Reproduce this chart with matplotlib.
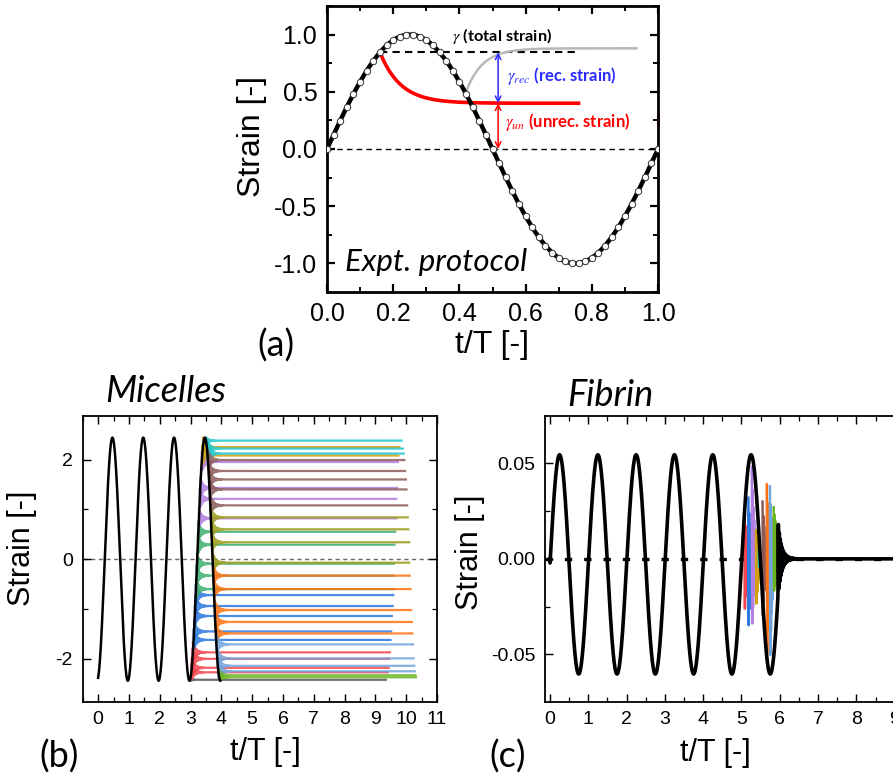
import numpy as np
import matplotlib
matplotlib.use('Agg')
import matplotlib.pyplot as plt
from matplotlib.ticker import MultipleLocator

plt.rcParams['font.family'] = ['Liberation Sans', 'DejaVu Sans']
plt.rcParams['mathtext.fontset'] = 'stix'
plt.rcParams['axes.unicode_minus'] = False

# ---------------- (a) experimental protocol ----------------
proto_amp = 1.0
proto_mark_step = 0.02
stop_t = 0.16            # shear stopped here
total_strain = 0.845     # gamma at stop
unrec_strain = 0.40      # level the red recovery curve settles at
red_end_t = 0.76
gray_t0, gray_y0 = 0.42, 0.50
gray_plateau = 0.88
gray_end_t = 0.935
arrow_t = 0.517

# ---------------- (b) micelles ----------------
mic_amp = 2.44
mic_shift = 0.035
mic_stop_cycle = 3
# cessation on the rising half of the last cycle
rise_levels = [-2.42, -2.27, -2.18, -2.00, -1.87, -1.62, -1.45, -1.14, -0.94, -0.72,
               -0.60, -0.33, -0.09, 0.29, 0.55, 0.82, 1.21, 1.43, 1.95, 2.08, 2.25]
rise_ends = [9.34, 9.40, 9.43, 9.45, 9.47, 9.49, 9.51, 9.53, 9.56, 9.58,
             9.59, 9.60, 9.60, 9.62, 9.64, 9.68, 9.68, 9.71, 9.73, 9.75, 9.78]
rise_colors = (['#555555'] + ['#f2444f'] * 4 + ['#2a78e0'] * 5 + ['#3daf6e'] * 5
               + ['#b07fe0'] * 4 + ['#d4a010'] * 2)
# cessation on the falling half
fall_levels = [2.38, 2.22, 2.12, 1.99, 1.77, 1.60, 1.40, 1.08, 0.84, 0.60, 0.34, -0.07,
               -0.33, -0.60, -1.02, -1.26, -1.49, -1.71, -1.99, -2.14, -2.25, -2.33, -2.37]
fall_ends = [9.85, 9.89, 9.92, 9.94, 9.96, 9.99, 10.01, 10.03, 10.05, 10.07, 10.10, 10.10,
             10.12, 10.14, 10.16, 10.18, 10.20, 10.22, 10.24, 10.26, 10.28, 10.30, 10.32]
fall_colors = (['#1fc6cc'] * 3 + ['#8c5a5a'] * 5 + ['#9c9c18'] * 4 + ['#ff7212'] * 5
               + ['#72a4dc'] * 4 + ['#6ab420'] * 2)

# ---------------- (c) fibrin ----------------
fib_amp = 0.0574
fib_offset = -0.0029
fib_stop = 5.95
fib_starts = [5.08, 5.18, 5.27, 5.38, 5.45, 5.55, 5.66, 5.74, 5.84]
fib_tops = [0.023, 0.032, 0.048, 0.015, 0.005, 0.030, 0.039, 0.038, 0.027]
fib_bottoms = [-0.030, -0.040, -0.039, -0.027, -0.005, -0.034, -0.057, -0.058, -0.018]
fib_decay = [0.07, 0.07, 0.07, 0.07, 0.07, 0.07, 0.07, 0.07, 0.13]
fib_colors = ['#f2444f', '#2a78e0', '#b07fe0', '#d4a010', '#1fc6cc', '#8c5a5a',
              '#ff7212', '#72a4dc', '#6ab420']

W, H = 893, 784
fig = plt.figure(figsize=(W / 100, H / 100), dpi=100)


def px_axes(x0, y0, x1, y1):
    return fig.add_axes([x0 / W, 1 - y1 / H, (x1 - x0) / W, (y1 - y0) / H])


def style_ticks(ax, size, lw):
    ax.tick_params(which='both', direction='in', top=True, right=True, labelsize=size)
    ax.tick_params(which='major', length=6, width=lw * 0.8, pad=7)
    ax.tick_params(which='minor', length=3.5, width=lw * 0.7)
    for s in ax.spines.values():
        s.set_linewidth(lw)


def ringing(s, amp, tau, freq=30.0):
    return amp * np.exp(-s / tau) * np.cos(2 * np.pi * freq * s)


# ======== (a) ========
ax = px_axes(327, 6, 658, 292)
t = np.linspace(0, 1, 600)
ax.plot(t, proto_amp * np.sin(2 * np.pi * t), color='black', lw=3.2, zorder=3)
tm = np.arange(0, 1 + 1e-9, proto_mark_step)
ax.plot(tm, proto_amp * np.sin(2 * np.pi * tm), ls='none', marker='o', ms=4.6,
        mfc='white', mec='#333333', mew=0.7, zorder=4)
ax.axhline(0, color='black', lw=1, dashes=(4, 3), zorder=1)
ax.plot([stop_t, red_end_t], [total_strain, total_strain], color='black', lw=1.5,
        dashes=(3.5, 2.5), zorder=2)

tr = np.linspace(stop_t, red_end_t, 300)
ax.plot(tr, unrec_strain + (total_strain - unrec_strain) * np.exp(-(tr - stop_t) / 0.062),
        color='red', lw=2.6, zorder=2)
tg = np.linspace(gray_t0, gray_end_t, 300)
ax.plot(tg, gray_plateau - (gray_plateau - gray_y0) * np.exp(-(tg - gray_t0) / 0.05),
        color='#b8b8b8', lw=1.8, zorder=2)
ax.plot([1.0, 1.0], [0.22, 0.29], color='red', lw=2, clip_on=False, zorder=1)

ax.annotate('', xy=(arrow_t, total_strain), xytext=(arrow_t, unrec_strain),
            arrowprops=dict(arrowstyle='<->', color='#2b2bff', lw=1.1, shrinkA=0, shrinkB=0))
ax.annotate('', xy=(arrow_t, unrec_strain), xytext=(arrow_t, 0),
            arrowprops=dict(arrowstyle='<->', color='red', lw=1.1, shrinkA=0, shrinkB=0))
ax.text(0.378, 0.987, r'$\gamma$ (total strain)', fontsize=11.8, fontweight='bold',
        family='Lato', va='center', color='black')
ax.text(0.544, 0.64, r'$\gamma_{rec}$ (rec. strain)', fontsize=12, fontweight='bold',
        family='Lato', va='center', color='#2b2bff')
ax.text(0.538, 0.237, r'$\gamma_{un}$ (unrec. strain)', fontsize=12, fontweight='bold',
        family='Lato', va='center', color='red')
ax.text(0.054, -1.07, 'Expt. protocol', fontsize=22.5, style='italic', family='Lato',
        va='baseline')

ax.set_xlim(0, 1)
ax.set_ylim(-1.25, 1.25)
ax.xaxis.set_major_locator(MultipleLocator(0.2))
ax.xaxis.set_minor_locator(MultipleLocator(0.1))
ax.yaxis.set_major_locator(MultipleLocator(0.5))
ax.yaxis.set_minor_locator(MultipleLocator(0.25))
ax.xaxis.set_major_formatter(lambda v, p: f'{v:.1f}')
ax.yaxis.set_major_formatter(lambda v, p: f'{v:.1f}')
style_ticks(ax, 18, 2.0)
ax.set_xlabel('t/T [-]', fontsize=23)
ax.set_ylabel('Strain [-]', fontsize=23)
ax.xaxis.set_label_coords(0.498, -0.133)
ax.yaxis.set_label_coords(-0.181, 0.542)

# ======== (b) ========
bx = px_axes(82.7, 415.7, 437, 701.7)
bx.axhline(0, color='#666666', lw=1, dashes=(3, 2.5), zorder=1)
t0 = mic_stop_cycle - mic_shift


def add_micelle_line(level, end, color, falling):
    phase = np.arccos(np.clip(-level / mic_amp, -1, 1))
    if falling:
        phase = 2 * np.pi - phase
    ts = t0 + phase / (2 * np.pi)
    # ringing stays inside the imposed strain range
    amp = min(0.2, mic_amp - abs(level))
    s = np.concatenate([np.linspace(0, 0.6, 3000), np.linspace(0.6, end - ts, 40)[1:]])
    bx.plot(ts + s, level + ringing(s, amp, 0.1), color=color, lw=1.6, alpha=0.85,
            zorder=2)


for lv, en, c in zip(rise_levels, rise_ends, rise_colors):
    add_micelle_line(lv, en, c, False)
for lv, en, c in zip(fall_levels, fall_ends, fall_colors):
    add_micelle_line(lv, en, c, True)

tb = np.linspace(0, t0 + 1.0, 1500)
bx.plot(tb, -mic_amp * np.cos(2 * np.pi * (tb + mic_shift)), color='black', lw=1.8, zorder=5)

bx.set_xlim(-0.5, 11)
bx.set_ylim(-2.86, 2.88)
bx.xaxis.set_major_locator(MultipleLocator(1))
bx.xaxis.set_minor_locator(MultipleLocator(0.5))
bx.yaxis.set_major_locator(MultipleLocator(2))
bx.yaxis.set_minor_locator(MultipleLocator(1))
style_ticks(bx, 14, 1.3)
bx.set_xlabel('t/T [-]', fontsize=22)
bx.set_ylabel('Strain [-]', fontsize=22)
bx.xaxis.set_label_coords(0.517, -0.123)
bx.yaxis.set_label_coords(-0.13, 0.537)

# ======== (c) ========
cx = px_axes(545, 416, 933, 701.7)
cx.plot([-0.13, 10], [0, 0], color='black', lw=2.4, dashes=(2.2, 3.6), zorder=1)

for ts, top, bot, tau, c in zip(fib_starts, fib_tops, fib_bottoms, fib_decay, fib_colors):
    s = np.linspace(0, 0.6, 6000)
    mid, half = (top + bot) / 2, (top - bot) / 2
    y = (mid + half * np.cos(2 * np.pi * 50 * s)) * np.exp(-s / tau)
    cx.plot(ts + s, y, color=c, lw=1.8, zorder=2)

# imposed oscillation, then free ringing back to zero after the stop
tc = np.linspace(0, fib_stop, 3000)
gc = fib_amp * np.sin(2 * np.pi * tc) + fib_offset
gc[0] = 0
s = np.linspace(0, 0.6, 6000)
gstop = fib_amp * np.sin(2 * np.pi * fib_stop) + fib_offset
ring = gstop * np.exp(-s / 0.09) * np.cos(2 * np.pi * 40 * s)
tail = np.linspace(fib_stop + 0.6, 10, 10)
cx.plot(np.concatenate([tc, fib_stop + s, tail]),
        np.concatenate([gc, ring, np.zeros_like(tail)]),
        color='black', lw=2.6, zorder=5)

cx.set_xlim(-0.13, 10)
cx.set_ylim(-0.0748, 0.0748)
cx.xaxis.set_major_locator(MultipleLocator(1))
cx.xaxis.set_minor_locator(MultipleLocator(0.5))
cx.yaxis.set_major_locator(MultipleLocator(0.05))
cx.yaxis.set_minor_locator(MultipleLocator(0.025))
cx.yaxis.set_major_formatter(lambda v, p: f'{v:.2f}')
style_ticks(cx, 14, 1.3)
cx.set_xlabel('t/T [-]', fontsize=22)
cx.set_ylabel('Strain [-]', fontsize=22)
cx.xaxis.set_label_coords(0.438, -0.127)
cx.yaxis.set_label_coords(-0.155, 0.523)

# panel letters and titles
fig.text(276 / W, 1 - 346 / H, '(a)', fontsize=26, family='Lato', ha='center', va='center')
fig.text(59 / W, 1 - 757 / H, '(b)', fontsize=26, family='Lato', ha='center', va='center')
fig.text(508 / W, 1 - 757 / H, '(c)', fontsize=26, family='Lato', ha='center', va='center')
fig.text(166 / W, 1 - 392 / H, 'Micelles', fontsize=26, style='italic', family='Lato',
         ha='center', va='center')
fig.text(610 / W, 1 - 396 / H, 'Fibrin', fontsize=26, style='italic', family='Lato',
         ha='center', va='center')

fig.savefig('out.png', dpi=100)
